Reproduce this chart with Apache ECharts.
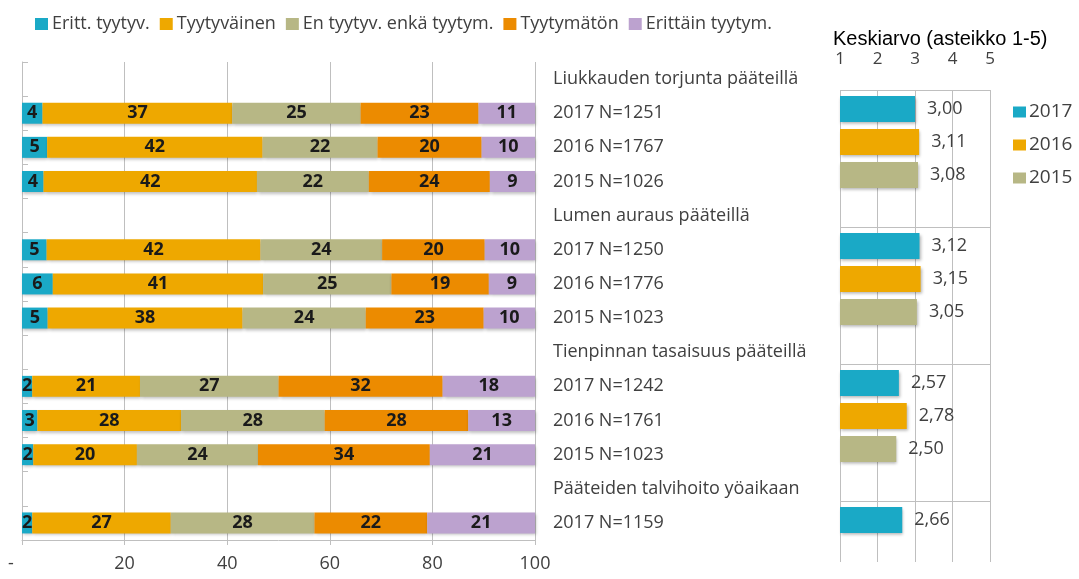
<!DOCTYPE html>
<html lang="fi">
<head>
<meta charset="UTF-8">
<title>Tyytyväisyys pääteiden talvihoitoon</title>
<style>
  html, body { margin: 0; padding: 0; background: #fff; }
  #main { position: absolute; left: 0; top: 0; width: 1079px; height: 579px; }
  #avg { position: absolute; left: 820px; top: 0; width: 259px; height: 562px; }
</style>
</head>
<body>
<div id="main"></div>
<div id="avg"></div>
<script src="https://cdn.jsdelivr.net/npm/echarts@6/dist/echarts.min.js"></script>
<script>
// rivit (otsikkorivit ilman palkkia)
var categories = [
  'Liukkauden torjunta pääteillä', '2017 N=1251', '2016 N=1767', '2015 N=1026',
  'Lumen auraus pääteillä', '2017 N=1250', '2016 N=1776', '2015 N=1023',
  'Tienpinnan tasaisuus pääteillä', '2017 N=1242', '2016 N=1761', '2015 N=1023',
  'Pääteiden talvihoito yöaikaan', '2017 N=1159'
];
var seriesNames = ['Eritt. tyytyv.', 'Tyytyväinen', 'En tyytyv. enkä tyytym.', 'Tyytymätön', 'Erittäin tyytym.'];
var erittTyytyv    = [null, 4,  4.9,  4.2, null, 4.8,  6,  5, null, 2,  3,  2.2, null, 2];
var tyytyvainen    = [null, 37, 42,  41.6, null, 41.7, 41, 38, null, 21, 28, 20.2, null, 27];
var enTyytyv       = [null, 25, 22.4, 21.8, null, 23.7, 25, 24, null, 27, 28, 23.6, null, 28];
var tyytymaton     = [null, 23, 20.3, 23.6, null, 20.0, 19, 23, null, 32, 28, 33.5, null, 22];
var erittainTyytym = [null, 11, 10.4, 8.8, null, 9.8,  9,  10, null, 18, 13, 20.5, null, 21];
var xTicks = [0, 20, 40, 60, 80, 100];

// keskiarvot (asteikko 1-5)
var groups = ['Liukkauden torjunta pääteillä', 'Lumen auraus pääteillä', 'Tienpinnan tasaisuus pääteillä', 'Pääteiden talvihoito yöaikaan'];
var years = ['2017', '2016', '2015'];
var avg2017 = [3.00, 3.12, 2.57, 2.66];
var avg2016 = [3.11, 3.15, 2.78, null];
var avg2015 = [3.08, 3.05, 2.50, null];

var colors = ['#1AA9C6', '#EEA800', '#B7B785', '#EC8B00', '#BCA2CF'];
var font = '"Open Sans", Lato, sans-serif';
var gridGray = '#BFBFBF';
var textGray = '#404040';

var shares = [erittTyytyv, tyytyvainen, enTyytyv, tyytymaton, erittainTyytym];

var myChart = echarts.init(document.getElementById('main'));
var option = {
  textStyle: { fontFamily: font },
  legend: {
    data: seriesNames,
    left: 30, top: 9,
    icon: 'rect', itemWidth: 13, itemHeight: 12, itemGap: 10,
    textStyle: { fontSize: 18, color: textGray, fontFamily: font, lineHeight: 20, padding: [0, 0, 0, -1] }
  },
  grid: { left: 22, right: 544, top: 62, bottom: 39, outerBoundsMode: 'none' },
  xAxis: {
    type: 'value', min: xTicks[0], max: xTicks[xTicks.length - 1], interval: 20,
    axisLine: { show: true, lineStyle: { color: gridGray } },
    axisTick: { show: true, length: 5, lineStyle: { color: gridGray } },
    splitLine: { show: true, lineStyle: { color: gridGray } },
    axisLabel: {
      margin: 15, fontSize: 18, color: textGray, fontFamily: font,
      formatter: function (v) { return v === 0 ? '{z|-}' : v; },
      rich: { z: { padding: [0, 22, 0, 0], fontSize: 18, color: textGray, fontFamily: font } }
    }
  },
  yAxis: {
    type: 'category', data: categories, inverse: true, position: 'right',
    axisLine: { show: true, lineStyle: { color: gridGray } },
    axisTick: { show: true, length: 6, lineStyle: { color: gridGray } },
    splitLine: { show: false },
    axisLabel: { margin: 18, fontSize: 18, color: textGray, fontFamily: font }
  },
  series: seriesNames.map(function (name, i) {
    return {
      name: name, type: 'bar', stack: 'osuus', barWidth: 21,
      data: shares[i],
      itemStyle: { color: colors[i], shadowColor: 'rgba(0,0,0,0.25)', shadowBlur: 3, shadowOffsetX: 1, shadowOffsetY: 2 },
      label: {
        show: true, position: 'inside', fontSize: 18, fontWeight: 'bold', color: '#1a1a1a', fontFamily: font,
        formatter: function (p) { return Math.round(p.value); }
      },
      emphasis: { disabled: true }
    };
  })
};
myChart.setOption(option);

// keskiarvokaavio
var avgChart = echarts.init(document.getElementById('avg'));
var avgData = [avg2017, avg2016, avg2015];
var avgSeries = years.map(function (y, i) {
  return {
    name: y, type: 'bar', barWidth: 26, barGap: '27%', clip: true,
    data: avgData[i],
    itemStyle: { color: colors[i], shadowColor: 'rgba(0,0,0,0.3)', shadowBlur: 3, shadowOffsetX: 1, shadowOffsetY: 2 },
    label: {
      show: true, position: 'right', distance: 12, fontSize: 18, color: textGray, fontFamily: font,
      formatter: function (p) { return p.value.toFixed(2).replace('.', ','); }
    },
    emphasis: { disabled: true }
  };
});
// tyhjä neljäs paikka ryhmän sisällä (kuten alkuperäisessä)
avgSeries.push({ name: 'tyhjä', type: 'bar', barWidth: 26, barGap: '27%', data: [] });

avgChart.setOption({
  textStyle: { fontFamily: font },
  title: {
    text: 'Keskiarvo (asteikko 1-5)', left: 13, top: 29, padding: 0,
    textStyle: { fontSize: 20, fontWeight: 'normal', color: '#000', fontFamily: '"Liberation Sans", Arial, sans-serif' }
  },
  legend: {
    data: years, orient: 'vertical', left: 193, top: 102, padding: 0,
    icon: 'rect', itemWidth: 13, itemHeight: 11, itemGap: 13,
    textStyle: { fontSize: 19, color: textGray, fontFamily: font, lineHeight: 20, padding: [0, 0, 0, -2] }
  },
  grid: { left: 20, right: 89, top: 90, height: 548, outerBoundsMode: 'none' },
  xAxis: {
    type: 'value', position: 'top', min: 1, max: 5, interval: 1, startValue: 1,
    axisLine: { show: false }, axisTick: { show: false },
    splitLine: { show: true, lineStyle: { color: gridGray } },
    axisLabel: { margin: 22, fontSize: 17, color: textGray, fontFamily: font }
  },
  yAxis: {
    type: 'category', data: groups, inverse: true,
    axisLine: { show: false }, axisTick: { show: false }, axisLabel: { show: false },
    splitLine: { show: true, lineStyle: { color: gridGray } }
  },
  series: avgSeries
});
</script>
</body>
</html>
